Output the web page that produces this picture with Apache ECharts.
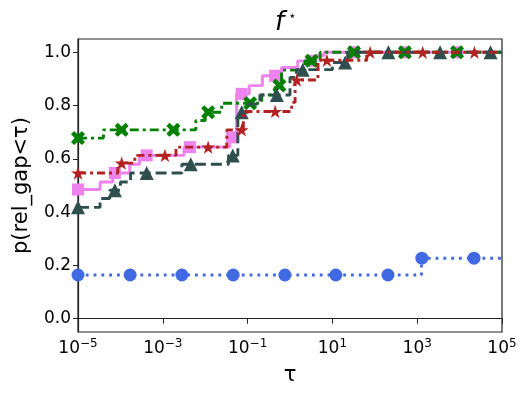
<!DOCTYPE html>
<html>
<head>
<meta charset="utf-8">
<script src="https://cdn.jsdelivr.net/npm/echarts@6/dist/echarts.min.js"></script>
<style>
  html, body { margin: 0; padding: 0; background: #fff; }
  #chart { width: 531px; height: 399px; }
</style>
</head>
<body>
<div id="chart"></div>
<script>
// x values are log10(tau); each step array holds [log10 tau, p] where p holds until the next point
const blueSteps = [[-5, 0.164], [3.10, 0.227], [5, 0.227]];
const blueMarks = [[-5, 0.164], [-3.77, 0.164], [-2.55, 0.164], [-1.34, 0.164], [-0.12, 0.164], [1.08, 0.164], [2.31, 0.164], [3.11, 0.227], [4.34, 0.227]];

const violetSteps = [[-5, 0.485], [-4.48, 0.513], [-4.18, 0.547], [-3.78, 0.58], [-3.55, 0.613], [-2.5, 0.644], [-1.42, 0.681], [-1.26, 0.844], [-0.96, 0.875], [-0.65, 0.912], [-0.2, 0.943], [0.18, 0.968], [0.6, 0.987], [0.8, 1.0], [5, 1.0]];
const violetMarks = [[-5, 0.485], [-4.13, 0.547], [-3.38, 0.613], [-2.36, 0.644], [-1.37, 0.681], [-1.14, 0.844], [-0.35, 0.912], [0.51, 0.968], [1.51, 1.0], [2.71, 1.0], [3.94, 1.0]];

const greenSteps = [[-5, 0.678], [-4.40, 0.709], [-2.22, 0.744], [-2.0, 0.775], [-1.61, 0.809], [-0.67, 0.84], [-0.35, 0.875], [-0.2, 0.933], [0.35, 0.968], [0.71, 1.0], [5, 1.0]];
const greenMarks = [[-5, 0.678], [-3.97, 0.709], [-2.75, 0.709], [-1.93, 0.775], [-0.94, 0.809], [-0.25, 0.875], [0.51, 0.968], [1.51, 1.0], [2.71, 1.0], [3.94, 1.0]];

const darkSteps = [[-5, 0.418], [-4.48, 0.451], [-4.25, 0.482], [-4.0, 0.513], [-3.76, 0.547], [-2.55, 0.58], [-1.45, 0.613], [-1.23, 0.775], [-0.98, 0.806], [-0.71, 0.84], [0.0, 0.906], [0.15, 0.935], [1.0, 0.962], [1.36, 1.0], [5, 1.0]];
const darkMarks = [[-5, 0.418], [-4.13, 0.482], [-3.38, 0.547], [-2.34, 0.58], [-1.35, 0.613], [-1.14, 0.775], [-0.31, 0.84], [0.30, 0.935], [1.30, 0.962], [2.32, 1.0], [3.54, 1.0], [4.73, 1.0]];

const brownSteps = [[-5, 0.547], [-4.06, 0.584], [-3.66, 0.613], [-2.69, 0.644], [-1.49, 0.709], [-1.10, 0.778], [0.04, 0.812], [0.12, 0.896], [0.66, 0.97], [1.81, 1.0], [5, 1.0]];
const brownMarks = [[-5, 0.547], [-3.97, 0.584], [-2.95, 0.613], [-1.93, 0.644], [-1.14, 0.709], [-0.35, 0.778], [0.16, 0.896], [0.87, 0.97], [1.89, 1.0], [3.13, 1.0], [4.35, 1.0]];

const yTicks = [0, 0.2, 0.4, 0.6, 0.8, 1.0];
const xTicks = [1e-5, 1e-3, 1e-1, 1e1, 1e3, 1e5];

const STAR = 'path://M100 0 L122.45 69.1 L195.1 69.1 L136.3 111.8 L158.8 180.9 L100 138.2 L41.2 180.9 L63.7 111.8 L4.9 69.1 L77.55 69.1 Z';
const XMARK = 'path://M2.2 0 L5 2.6 L7.8 0 L10 2.2 L7.4 5 L10 7.8 L7.8 10 L5 7.4 L2.2 10 L0 7.8 L2.6 5 L0 2.2 Z';

const toTau = arr => arr.map(p => [Math.pow(10, p[0]), p[1]]);

const curves = [
  { steps: blueSteps, marks: blueMarks, color: '#4169e1', dash: [2.8, 5], symbol: 'circle', size: 13 },
  { steps: violetSteps, marks: violetMarks, color: '#ee82ee', dash: 'solid', symbol: 'rect', size: 12 },
  { steps: greenSteps, marks: greenMarks, color: '#008000', dash: [9, 4, 3, 4], symbol: XMARK, size: 14 },
  { steps: darkSteps, marks: darkMarks, color: '#2f4f4f', dash: [11, 5], symbol: 'triangle', size: 14 },
  { steps: brownSteps, marks: brownMarks, color: '#b22222', dash: [8, 4, 3, 4], symbol: STAR, size: 14 }
];

const series = [];
curves.forEach((c, i) => {
  series.push({
    type: 'line', step: 'end', data: toTau(c.steps), showSymbol: false, symbol: 'none',
    lineStyle: { color: c.color, width: 2.9, type: c.dash, cap: 'butt' },
    z: 2 + i * 2, animation: false
  });
  series.push({
    type: 'scatter', data: toTau(c.marks), symbol: c.symbol, symbolSize: c.size,
    symbolKeepAspect: true,
    itemStyle: { color: c.color, opacity: 1 },
    z: 3 + i * 2, animation: false
  });
});

const chart = echarts.init(document.getElementById('chart'));
chart.setOption({
  animation: false,
  textStyle: { fontFamily: 'DejaVu Sans' },
  graphic: [{
    type: 'text', left: 275, top: 10,
    style: {
      text: '{f|f}{s|⋆}',
      rich: {
        f: { fontSize: 26, fontStyle: 'italic', fontFamily: 'DejaVu Sans', fill: '#000' },
        s: { fontSize: 13, fontFamily: 'DejaVu Sans', fill: '#000', padding: [0, 0, 14, 4] }
      }
    }
  }],
  grid: { left: 78, right: 29, top: 39, bottom: 67, show: true, borderColor: '#222', borderWidth: 1.2, backgroundColor: '#fff' },
  xAxis: {
    type: 'log', logBase: 10, min: 1e-5, max: 1e5,
    name: 'τ', nameLocation: 'middle', nameGap: 33,
    nameTextStyle: { fontSize: 21, color: '#000', fontFamily: 'DejaVu Sans' },
    axisLine: { lineStyle: { color: '#222', width: 1.2 } },
    axisTick: { length: 5, lineStyle: { color: '#222' }, customValues: xTicks },
    splitLine: { show: false },
    minorTick: { show: false },
    axisLabel: {
      customValues: xTicks, margin: 6,
      formatter: v => {
        const e = Math.round(Math.log10(v));
        return '{b|10}{s|' + (e < 0 ? '−' : '') + Math.abs(e) + '}';
      },
      rich: {
        b: { fontSize: 17, color: '#000', fontFamily: 'DejaVu Sans' },
        s: { fontSize: 12, color: '#000', fontFamily: 'DejaVu Sans', padding: [0, 0, 10, 0] }
      }
    }
  },
  yAxis: {
    type: 'value', min: -0.05, max: 1.05,
    name: 'p(rel_gap<τ)', nameLocation: 'middle', nameGap: 46, nameRotate: 90,
    nameTextStyle: { fontSize: 21, color: '#000', fontFamily: 'DejaVu Sans' },
    axisLine: { show: true, lineStyle: { color: '#222', width: 1.2 } },
    axisTick: { show: true, length: 5, lineStyle: { color: '#222' }, customValues: yTicks },
    splitLine: { show: false },
    axisLabel: {
      customValues: yTicks, margin: 7, fontSize: 17, color: '#000', fontFamily: 'DejaVu Sans',
      formatter: v => v.toFixed(1)
    }
  },
  series: series
});
</script>
</body>
</html>
